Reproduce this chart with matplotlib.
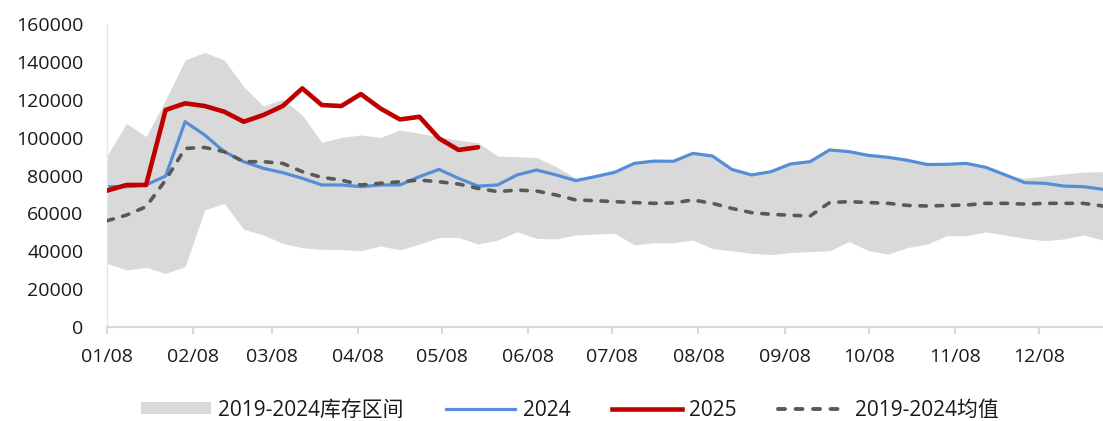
import matplotlib
matplotlib.use("Agg")
import matplotlib.pyplot as plt
import matplotlib.dates as mdates
import pandas as pd
from matplotlib.patches import Patch
from matplotlib.lines import Line2D

# ---- data (weekly, starting 01/08) ----
dates = pd.date_range("2025-01-08", periods=52, freq="7D")

band_upper = [90300, 107500, 100500, 119900, 141000, 145000, 141000, 126900, 116700, 120200,
              111900, 97500, 100100, 101400, 100100, 104000, 102300, 100500, 98700, 97300,
              90300, 89900, 89500, 84700, 78500, 79400, 81700, 86400, 87600, 87500,
              91700, 90300, 83200, 80300, 82000, 86100, 87300, 93500, 92600, 90600,
              89600, 88000, 85800, 85900, 86400, 84300, 80300, 78500, 79700, 80800,
              81800, 82000]
band_lower = [33600, 30100, 31500, 28300, 31900, 61800, 65300, 51600, 48600, 44200,
              41900, 41000, 41000, 40300, 42800, 40700, 43800, 47300, 47300, 43800,
              45900, 50300, 46800, 46500, 48600, 49100, 49500, 43300, 44500, 44500,
              45900, 41400, 40300, 38900, 38200, 39300, 39800, 40300, 45100, 40300,
              38500, 42000, 43800, 48200, 48200, 50200, 48600, 46800, 45600, 46500,
              48600, 45900]
s2024 = [74100, 74100, 75000, 79700, 108400, 101400, 92600, 87300, 83800, 81500,
         78500, 75000, 75000, 74100, 75000, 75000, 79400, 83200, 78500, 74400,
         75000, 80300, 82900, 80300, 77300, 79400, 81700, 86400, 87600, 87500,
         91700, 90300, 83200, 80300, 82000, 86100, 87300, 93500, 92600, 90600,
         89600, 88000, 85800, 85900, 86400, 84300, 80300, 76200, 75900, 74400,
         74100, 72700]
s2025 = [72000, 75000, 75000, 114600, 118100, 116700, 113700, 108400, 111900, 116700,
         126000, 117200, 116700, 123000, 115400, 109600, 111000, 99600, 93500, 94900]
s_mean = [56100, 59100, 63500, 77600, 94300, 94800, 92600, 87300, 87300, 86400,
          82000, 79000, 77600, 75000, 75900, 76700, 77600, 76700, 75500, 73200,
          71500, 72300, 71800, 69700, 67100, 66700, 66200, 65700, 65300, 65500,
          67100, 65300, 62600, 60400, 59500, 59000, 58600, 65700, 66200, 65700,
          65300, 64200, 63900, 64200, 64400, 65300, 65300, 64900, 65300, 65300,
          65300, 63900]
y_ticks = [0, 20000, 40000, 60000, 80000, 100000, 120000, 140000, 160000]
x_ticks = pd.date_range("2025-01-01", periods=12, freq="MS") + pd.Timedelta(days=7)

labels = ["2019-2024库存区间", "2024", "2025", "2019-2024均值"]

# ---- style ----
plt.rcParams['font.family'] = ['Open Sans', 'Noto Sans CJK SC', 'DejaVu Sans']
C_BAND = "#D9D9D9"
C_2024 = "#558ED5"
C_2025 = "#C00000"
C_MEAN = "#595959"
MEAN_DASH = (1.8, 2.7)

fig = plt.figure(figsize=(11.03, 4.21), dpi=100)
ax = fig.add_axes([107/1103, 1 - 327/421, 1 - 107/1103, (327 - 24)/421])

ax.fill_between(dates, band_lower, band_upper, color=C_BAND, linewidth=0, zorder=1)
ax.plot(dates, s2024, color=C_2024, linewidth=2.3, zorder=2, solid_joinstyle='round')
ax.plot(dates[:len(s2025)], s2025, color=C_2025, linewidth=3.3, zorder=3,
        solid_joinstyle='round', solid_capstyle='round')
ax.plot(dates, s_mean, color=C_MEAN, linewidth=2.6, zorder=4,
        dashes=MEAN_DASH, dash_capstyle='round')

ax.set_ylim(0, 160000)
ax.set_xlim(pd.Timestamp("2025-01-08"), pd.Timestamp("2025-12-31"))
ax.set_yticks(y_ticks)
ax.set_yticklabels([str(v) for v in y_ticks])
ax.set_xticks(x_ticks)
ax.xaxis.set_major_formatter(mdates.DateFormatter("%m/%d"))

for s in ["top", "right"]:
    ax.spines[s].set_visible(False)
ax.spines["bottom"].set_color("#D9D9D9")
ax.spines["bottom"].set_linewidth(1.5)
ax.spines["left"].set_color("#E6E6E6")
ax.spines["left"].set_linewidth(1.0)
ax.tick_params(axis="y", length=0, pad=17, labelsize=14, labelcolor="#1a1a1a")
ax.tick_params(axis="x", length=5, width=1.5, color="#D9D9D9", pad=10,
               labelsize=14, labelcolor="#1a1a1a")

handles = [
    Patch(facecolor=C_BAND, edgecolor="none"),
    Line2D([], [], color=C_2024, linewidth=2.3),
    Line2D([], [], color=C_2025, linewidth=3.3),
    Line2D([], [], color=C_MEAN, linewidth=2.8, dashes=MEAN_DASH, dash_capstyle='round'),
]
fig.legend(handles, labels, loc="center", bbox_to_anchor=(0.517, 0.026), ncol=4,
           frameon=False, fontsize=15, handlelength=3.35, handleheight=0.5,
           handletextpad=0.35, columnspacing=2.0, labelcolor="#1a1a1a")

fig.savefig("out.png", dpi=100)
